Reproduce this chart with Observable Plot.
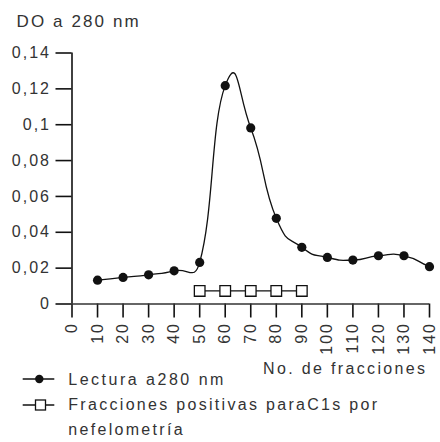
<!DOCTYPE html>
<html><head><meta charset="utf-8">
<script src="https://cdn.jsdelivr.net/npm/d3@7"></script>
<script src="https://cdn.jsdelivr.net/npm/@observablehq/plot@0.6"></script>
<style>
body{margin:0;background:#fff;}
#wrap{position:relative;width:440px;height:442px;font-family:"Liberation Sans",Arial,sans-serif;color:#333;}
.t{position:absolute;white-space:nowrap;line-height:1;}
svg.sym{position:absolute;left:0;top:0;overflow:visible;}
</style></head><body>
<div id="wrap"></div>
<script>
const fractions = [10, 20, 30, 40, 50, 60, 70, 80, 90, 100, 110, 120, 130, 140];
const absorbance = [0.0133, 0.0148, 0.0163, 0.0185, 0.0232, 0.1218, 0.0982, 0.0478, 0.0316, 0.0260, 0.0245, 0.0269, 0.0269, 0.0208];
const positiveFractions = [50, 60, 70, 80, 90];
const positiveLevel = [0.0073, 0.0073, 0.0073, 0.0073, 0.0073];
const yTicks = [0, 0.02, 0.04, 0.06, 0.08, 0.1, 0.12, 0.14];
const xTicks = [0, 10, 20, 30, 40, 50, 60, 70, 80, 90, 100, 110, 120, 130, 140];
const titleText = "DO a 280 nm";
const xLabel = "No. de fracciones";
const legend1 = "Lectura a280 nm";
const legend2a = "Fracciones positivas paraC1s por";
const legend2b = "nefelometría";

const reading = fractions.map((f, i) => ({f, v: absorbance[i]}));
const positive = positiveFractions.map((f, i) => ({f, v: positiveLevel[i]}));
const ink = "#111";

// Bezier smoothing: tangent from neighbours, handle length limited by the segment length
function smoothCurve(context) {
  const F = 1.7, C = 0.75;
  let pts;
  return {
    areaStart() {}, areaEnd() {},
    lineStart() { pts = []; },
    point(x, y) { pts.push([+x, +y]); },
    lineEnd() {
      const n = pts.length;
      if (!n) return;
      context.moveTo(pts[0][0], pts[0][1]);
      const tan = pts.map((p, i) => {
        const a = pts[Math.max(0, i - 1)], b = pts[Math.min(n - 1, i + 1)];
        return [b[0] - a[0], b[1] - a[1]];
      });
      const handle = (t, len, end) => {
        const L = Math.hypot(t[0], t[1]) || 1;
        const s = Math.min(F * L / (end ? 3 : 6), C * len);
        return [t[0] / L * s, t[1] / L * s];
      };
      for (let i = 0; i < n - 1; i++) {
        const p = pts[i], q = pts[i + 1];
        const len = Math.hypot(q[0] - p[0], q[1] - p[1]);
        const h1 = handle(tan[i], len, i === 0);
        const h2 = handle(tan[i + 1], len, i + 1 === n - 1);
        context.bezierCurveTo(p[0] + h1[0], p[1] + h1[1], q[0] - h2[0], q[1] - h2[1], q[0], q[1]);
      }
    }
  };
}

const chart = Plot.plot({
  width: 440, height: 442,
  marginLeft: 71.5, marginRight: 11, marginTop: 52.5, marginBottom: 138.5,
  style: {fontFamily: "Liberation Sans, Arial, sans-serif", fontSize: "16px", letterSpacing: "2px", color: "#333", background: "#fff"},
  x: {domain: [0, 140]},
  y: {domain: [0, 0.14]},
  marks: [
    Plot.axisY({ticks: yTicks, tickSize: 16, tickPadding: 5, tickFormat: d => String(d).replace(".", ","), label: null, stroke: ink, strokeWidth: 1.6}),
    Plot.axisX({ticks: xTicks, tickSize: 14, tickPadding: 4, tickRotate: -90, label: null, stroke: ink, strokeWidth: 1.6}),
    Plot.ruleX([0], {stroke: ink, strokeWidth: 1.6}),
    Plot.ruleY([0], {stroke: "#333", strokeWidth: 1.6}),
    Plot.line(reading, {x: "f", y: "v", curve: smoothCurve, stroke: ink, strokeWidth: 1.3}),
    Plot.dot(reading, {x: "f", y: "v", r: 4.6, fill: ink}),
    Plot.line(positive, {x: "f", y: "v", stroke: ink, strokeWidth: 1.3}),
    Plot.dot(positive, {x: "f", y: "v", symbol: "square", r: 6, fill: "#fff", stroke: ink, strokeWidth: 1.3})
  ]
});
const wrap = document.getElementById("wrap");
wrap.appendChild(chart);

function addText(txt, left, top, size, ls) {
  const d = document.createElement("div");
  d.className = "t";
  d.textContent = txt;
  d.style.left = left + "px";
  d.style.top = top + "px";
  d.style.fontSize = size + "px";
  d.style.letterSpacing = ls + "px";
  wrap.appendChild(d);
}
addText(titleText, 16.5, 13.3, 17, 2.1);
addText(xLabel, 263, 360.8, 16, 2.35);
addText(legend1, 68.3, 371.5, 16, 2.5);
addText(legend2a, 68.3, 396.5, 16, 2.3);
addText(legend2b, 68.3, 421.5, 16, 2.3);

const ns = "http://www.w3.org/2000/svg";
const sym = document.createElementNS(ns, "svg");
sym.setAttribute("class", "sym");
sym.setAttribute("width", 440);
sym.setAttribute("height", 442);
sym.innerHTML = `
  <line x1="22.7" x2="54.3" y1="379" y2="379" stroke="${ink}" stroke-width="1.3"/>
  <circle cx="39.3" cy="379" r="4.2" fill="${ink}"/>
  <line x1="22.7" x2="54.3" y1="405" y2="405" stroke="${ink}" stroke-width="1.3"/>
  <rect x="35.5" y="400" width="10" height="10" fill="#fff" stroke="${ink}" stroke-width="1.3"/>`;
wrap.appendChild(sym);
</script>
</body></html>
